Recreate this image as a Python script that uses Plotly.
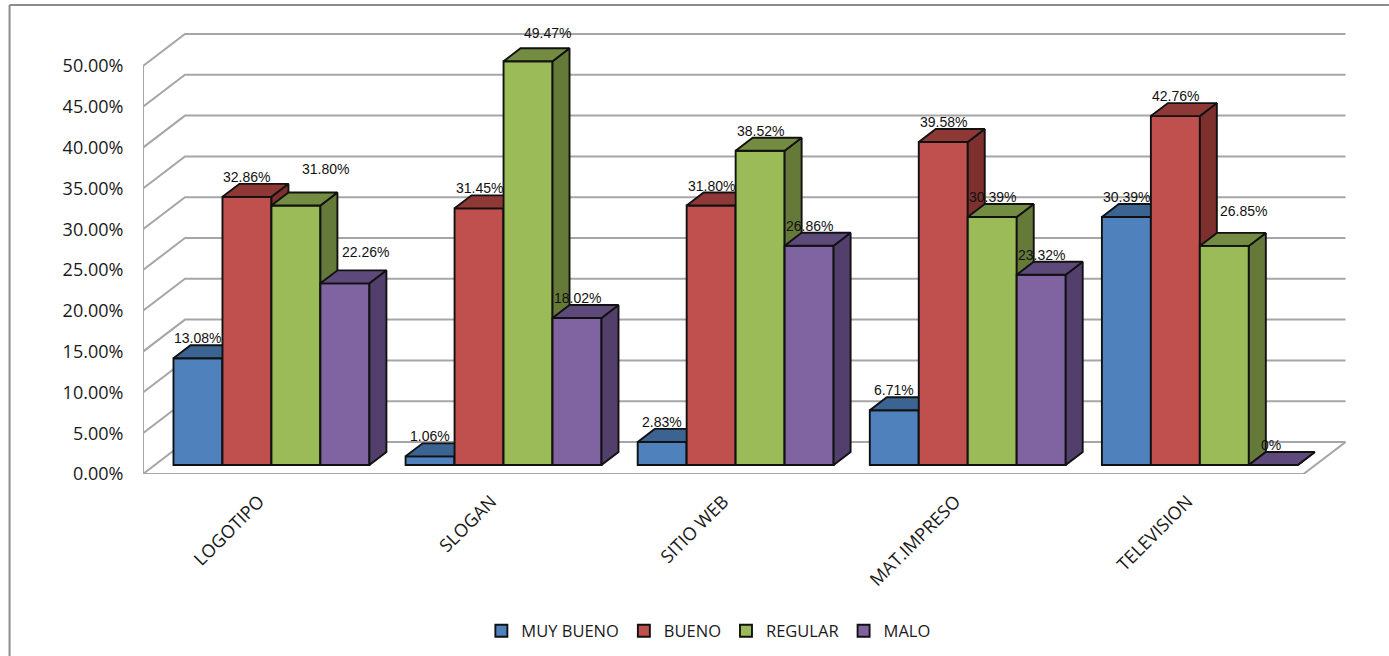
import plotly.graph_objects as go

categories = ["LOGOTIPO", "SLOGAN", "SITIO WEB", "MAT.IMPRESO", "TELEVISION"]
series_names = ["MUY BUENO", "BUENO", "REGULAR", "MALO"]
muy_bueno = [13.08, 1.06, 2.83, 6.71, 30.39]
bueno = [32.86, 31.45, 31.80, 39.58, 42.76]
regular = [31.80, 49.47, 38.52, 30.39, 26.85]
malo = [22.26, 18.02, 26.86, 23.32, 0]
series_values = [muy_bueno, bueno, regular, malo]
y_ticks = [0, 5, 10, 15, 20, 25, 30, 35, 40, 45, 50]

front_colors = ["#4F81BD", "#C0504D", "#9BBB59", "#8064A2"]
top_colors = ["#3B6492", "#8F3937", "#748C41", "#5E4A7A"]
side_colors = ["#365A85", "#7D302E", "#657A39", "#523F6B"]

# label nudges in pixels, relative to the top of each bar: (series, category) -> (dx, dy)
label_nudges = {(2, 0): (30, 37), (3, 0): (21, 31), (2, 1): (19, 28), (2, 4): (19, 35)}

W, H = 1389, 656
L, R, T, B = 142.5, 1346, 20, 474
PX_CAT = 232.2
PX_PCT = 8.16
EDGE = 1.9
plot_w, plot_h = R - L, B - T
xr = [-0.5, -0.5 + plot_w / PX_CAT]
yr = [0, plot_h / PX_PCT]

def ux(px):
    return px / PX_CAT

def uy(px):
    return px / PX_PCT

wall_dx, wall_dy = ux(42), uy(32)
bar_dx, bar_dy = ux(17), uy(13)
bar_w = ux(49)
bar_base = uy(9)
group_left = ux(-85.6)
GRID = "#A6A6A6"

fig = go.Figure()

# walls and floor
gx, gy = [], []
for t in y_ticks:
    gx += [xr[0], xr[0] + wall_dx, 4.5 + wall_dx, None]
    gy += [t, t + wall_dy, t + wall_dy, None]
gx += [xr[0], xr[0], None, xr[0], 4.5, 4.5 + wall_dx]
gy += [y_ticks[0], y_ticks[-1], None, 0, 0, wall_dy]
fig.add_trace(go.Scatter(x=gx, y=gy, mode="lines", line=dict(color=GRID, width=2),
                         showlegend=False, hoverinfo="skip", cliponaxis=False))

annotations = []
for s, (name, vals) in enumerate(zip(series_names, series_values)):
    n = s + 2
    xa, ya = f"x{n}", f"y{n}"
    fig.update_layout({
        f"xaxis{n}": dict(overlaying="x", range=xr, visible=False, fixedrange=True),
        f"yaxis{n}": dict(overlaying="y", range=yr, visible=False, fixedrange=True),
    })
    offset = group_left + s * bar_w
    fig.add_trace(go.Bar(
        x=list(range(len(categories))), y=vals, base=bar_base, width=bar_w, offset=offset,
        name=name, marker=dict(color=front_colors[s], line=dict(color="#111111", width=EDGE)),
        xaxis=xa, yaxis=ya, cliponaxis=False,
    ))
    for c, v in enumerate(vals):
        x0 = c + offset
        x1 = x0 + bar_w
        top = v + bar_base
        fig.add_trace(go.Scatter(
            x=[x1, x1 + bar_dx, x1 + bar_dx, x1, x1],
            y=[bar_base, bar_base + bar_dy, top + bar_dy, top, bar_base],
            mode="lines", fill="toself", fillcolor=side_colors[s],
            line=dict(color="#111111", width=EDGE), showlegend=False, hoverinfo="skip",
            xaxis=xa, yaxis=ya))
        fig.add_trace(go.Scatter(
            x=[x0, x1, x1 + bar_dx, x0 + bar_dx, x0],
            y=[top, top, top + bar_dy, top + bar_dy, top],
            mode="lines", fill="toself", fillcolor=top_colors[s],
            line=dict(color="#111111", width=EDGE), showlegend=False, hoverinfo="skip",
            xaxis=xa, yaxis=ya))
        dx, dy = label_nudges.get((s, c), (0, 20))
        if v == 0:
            dx = -2
        annotations.append(dict(
            x=x0 + bar_w / 2, y=top, xref="x", yref="y", xshift=dx, yshift=dy,
            text="0%" if v == 0 else f"{v:.2f}%", showarrow=False,
            font=dict(family="Liberation Sans", size=14, color="#111111"),
        ))

# outer frame, drawn in paper fractions
def fx(px):
    return (px - L) / plot_w

def fy(py):
    return (B - py) / plot_h

FRAME = "#8C8C8C"
shapes = [
    dict(type="line", xref="paper", yref="paper", x0=fx(9), x1=fx(9), y0=fy(5), y1=fy(656),
         line=dict(color=FRAME, width=2)),
    dict(type="line", xref="paper", yref="paper", x0=fx(9), x1=fx(1389), y0=fy(5), y1=fy(5),
         line=dict(color=FRAME, width=2)),
]

fig.update_layout(
    width=W, height=H, autosize=False,
    margin=dict(l=L, r=W - R, t=T, b=H - B, pad=0, autoexpand=False),
    paper_bgcolor="white", plot_bgcolor="white",
    font=dict(family="Open Sans", color="#1a1a1a"),
    xaxis=dict(range=xr, tickmode="array", tickvals=list(range(len(categories))), ticktext=categories,
               tickangle=-45, showgrid=False, zeroline=False, showline=False, ticks="outside",
               ticklen=9, tickcolor="rgba(0,0,0,0)", tickfont=dict(size=18, color="#1a1a1a"),
               fixedrange=True, automargin=False),
    yaxis=dict(range=yr, tickmode="array", tickvals=y_ticks, ticktext=[f"{t:.2f}%" for t in y_ticks],
               showgrid=False, zeroline=False, showline=False, ticks="outside", ticklen=15,
               tickcolor="rgba(0,0,0,0)", tickfont=dict(size=18, color="#1a1a1a"), fixedrange=True,
               automargin=False),
    legend=dict(orientation="h", x=fx(481), xanchor="left", y=fy(631), yanchor="middle",
                font=dict(size=16.5, color="#1a1a1a"), bgcolor="rgba(0,0,0,0)", traceorder="normal"),
    annotations=annotations, shapes=shapes, showlegend=True,
)

fig.write_html("out.html", config={"displayModeBar": False},
               post_script="document.body.style.margin='0';document.documentElement.style.overflow='hidden';")
